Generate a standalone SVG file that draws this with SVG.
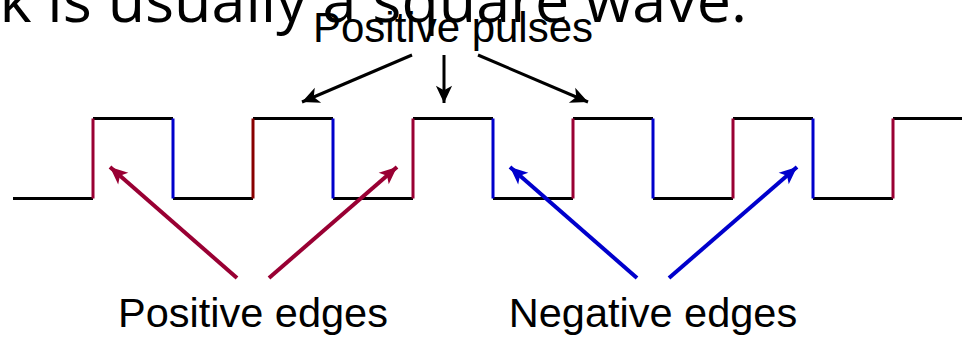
<svg xmlns="http://www.w3.org/2000/svg" width="962" height="337" viewBox="0 0 962 337">
<style>
.lbl{font-family:"Liberation Sans",Arial,sans-serif;fill:#000}
.title{font-family:"Open Sans","Noto Sans",sans-serif;fill:#000}
.lvl{stroke:#000;stroke-width:3;fill:none}
.pos{stroke:#990033;stroke-width:3;fill:none}
.pos2{stroke:#880000;stroke-width:3;fill:none}
.neg{stroke:#0000CC;stroke-width:3;fill:none}
.ka{stroke:#000;stroke-width:3;fill:none}
.ra{stroke:#990033;stroke-width:4;fill:none}
.ba{stroke:#0000CC;stroke-width:4;fill:none}
</style>
<defs>
<marker id="hk" markerUnits="userSpaceOnUse" markerWidth="22" markerHeight="22" viewBox="-17 -9 19 18" refX="0" refY="0" orient="auto">
<path d="M0,0 L-15,-7 L-11,0 L-15,7 z" fill="#000"/>
</marker>
<marker id="hr" markerUnits="userSpaceOnUse" markerWidth="22" markerHeight="22" viewBox="-18 -9 20 18" refX="0" refY="0" orient="auto">
<path d="M0,0 L-16,-7 L-12,0 L-16,7 z" fill="#990033"/>
</marker>
<marker id="hb" markerUnits="userSpaceOnUse" markerWidth="22" markerHeight="22" viewBox="-18 -9 20 18" refX="0" refY="0" orient="auto">
<path d="M0,0 L-16,-7 L-12,0 L-16,7 z" fill="#0000CC"/>
</marker>
</defs>
<text class="title" x="747" y="22" font-size="61" text-anchor="end">k is usually a square wave.</text>
<g id="wave">
<path class="lvl" d="M13,198.5H93 M93,118.5H173 M173,198.5H253 M253,118.5H333 M333,198.5H413 M413,118.5H493 M493,198.5H573 M573,118.5H653 M653,198.5H733 M733,118.5H813 M813,198.5H893 M893,118.5H962"/>
<path class="pos" d="M93,118.5V198.5 M413,118.5V198.5 M573,118.5V198.5 M733,118.5V198.5 M893,118.5V198.5"/>
<path class="pos2" d="M253,118.5V198.5"/>
<path class="neg" d="M173,118.5V198.5 M333,118.5V198.5 M493,118.5V198.5 M653,118.5V198.5 M813,118.5V198.5"/>
</g>
<g id="label-pulses"><text class="lbl" x="453" y="42" font-size="42" text-anchor="middle">Positive pulses</text></g>
<g id="label-pos"><text class="lbl" x="253" y="327" font-size="41.5" text-anchor="middle">Positive edges</text></g>
<g id="label-neg"><text class="lbl" x="653" y="327" font-size="41.5" text-anchor="middle">Negative edges</text></g>
<g id="connectors">
<line class="ka" x1="412" y1="55" x2="302" y2="102" marker-end="url(#hk)"/>
<line class="ka" x1="444" y1="55" x2="444" y2="103" marker-end="url(#hk)"/>
<line class="ka" x1="478" y1="55" x2="588" y2="102" marker-end="url(#hk)"/>
<line class="ra" x1="237" y1="278" x2="110" y2="167" marker-end="url(#hr)"/>
<line class="ra" x1="269" y1="278" x2="397" y2="167" marker-end="url(#hr)"/>
<line class="ba" x1="637" y1="278" x2="510" y2="167" marker-end="url(#hb)"/>
<line class="ba" x1="669" y1="278" x2="797" y2="167" marker-end="url(#hb)"/>
</g>
</svg>
